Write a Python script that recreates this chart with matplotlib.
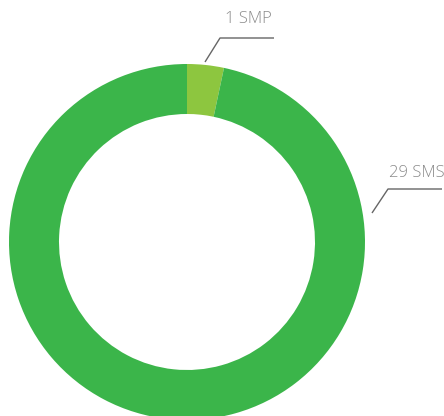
import matplotlib
matplotlib.use("Agg")
import matplotlib.pyplot as plt

labels = ["1 SMP", "29 SMS"]
values = [1, 29]
colors = ["#8dc63f", "#3bb54a"]

W, H = 444, 416
fig = plt.figure(figsize=(W / 100, H / 100), dpi=100)
ax = fig.add_axes([0, 0, 1, 1])
ax.set_xlim(0, W)
ax.set_ylim(0, H)
ax.set_aspect("equal")
ax.axis("off")

cx, cy, R = 187, 174, 178
ax.pie(values, colors=colors, startangle=90, counterclock=False,
       center=(cx, cy), radius=R, wedgeprops=dict(width=50, linewidth=0),
       frame=True)
ax.set_xlim(0, W)
ax.set_ylim(0, H)
ax.axis("off")

line_kw = dict(color="#666666", lw=1.0, solid_capstyle="butt")
# label 1
ax.plot([205, 220, 274], [H - 62, H - 38, H - 38], **line_kw)
ax.text(248, H - 19, labels[0], ha="center", va="center", color="#8a8a8a",
        fontsize=12, family="Open Sans", fontweight="light")
# label 2
ax.plot([372, 388, 442], [H - 213, H - 189, H - 189], **line_kw)
ax.text(417, H - 173, labels[1], ha="center", va="center", color="#8a8a8a",
        fontsize=12, family="Open Sans", fontweight="light")

fig.savefig("out.png", dpi=100)
